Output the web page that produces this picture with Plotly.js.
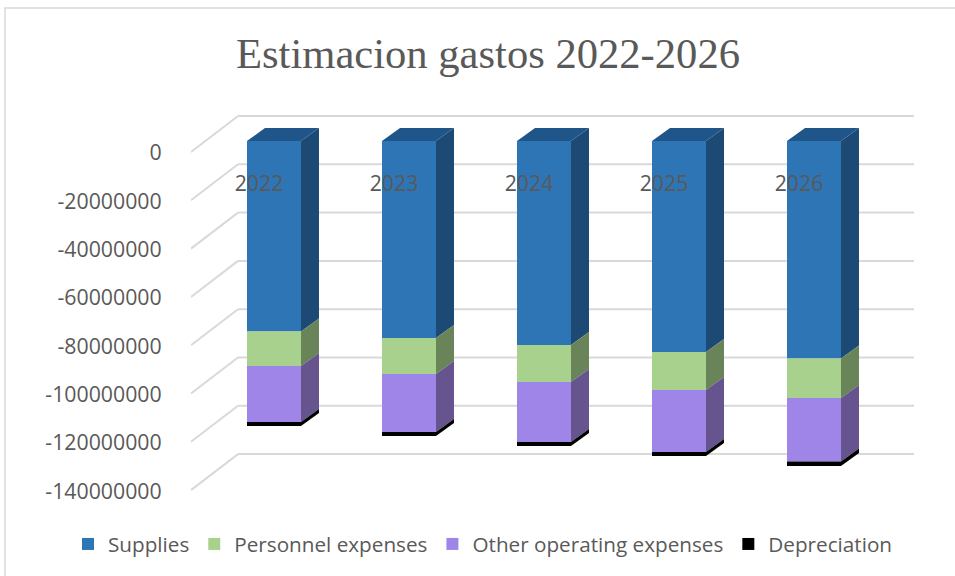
<!DOCTYPE html>
<html><head><meta charset="utf-8">
<script src="https://cdn.plot.ly/plotly-3.0.1.min.js"></script>
<style>html,body{margin:0;padding:0;background:#fff}</style></head>
<body><div id="chart" style="width:955px;height:576px"></div>
<script>
const years = ['2022','2023','2024','2025','2026'];
const supplies = [-78.9e6,-81.6e6,-84.5e6,-87.4e6,-90.1e6];
const personnel = [-14.3e6,-14.9e6,-15.3e6,-15.7e6,-16.3e6];
const otherOperating = [-23.2e6,-24.0e6,-24.8e6,-25.7e6,-26.3e6];
const depreciation = [-1.6e6,-1.7e6,-1.7e6,-1.6e6,-1.9e6];
const yTicks = [0,-20e6,-40e6,-60e6,-80e6,-100e6,-120e6,-140e6];

const W=955,H=576, L=191,R=914,T=100,B=500;
const pxPerX=135, pxPerY=48.3/20e6;
// x index 0 centred at px 274, value 0 at px 141
const xr=[(L-274)/pxPerX,(R-274)/pxPerX];
const yr=[(141-B)/pxPerY,(141-T)/pxPerY];
const barW=54/pxPerX, halfW=barW/2;
const dX=18/pxPerX, dY=13/pxPerY;           // bar depth
const backDY=25/pxPerY, frontDY=-11/pxPerY; // floor depth
const xA=xr[0], xB=(238-274)/pxPerX, xC=xr[1];

const series=[
 {name:'Supplies',v:supplies,c:'#2E75B6',side:'#1C4A75',top:'#20558A'},
 {name:'Personnel expenses',v:personnel,c:'#A9D18E',side:'#6A8459',top:'#6A8459'},
 {name:'Other operating expenses',v:otherOperating,c:'#A085E8',side:'#66548F',top:'#66548F'},
 {name:'Depreciation',v:depreciation,c:'#000000',side:'#000000',top:'#000000'}
];
const idx=years.map((_,i)=>i);
const traces=[];
series.forEach(s=>traces.push({type:'bar',name:s.name,x:idx,y:s.v,width:barW,
  marker:{color:s.c,line:{width:0}},hoverinfo:'skip'}));
let stack=years.map(()=>0);
series.forEach(s=>{
  idx.forEach(i=>{
    const y0=stack[i],y1=y0+s.v[i],xr0=i+halfW;
    traces.push({type:'scatter',mode:'lines',showlegend:false,hoverinfo:'skip',
      x:[xr0,xr0+dX,xr0+dX,xr0,xr0],y:[y0,y0+dY,y1+dY,y1,y0],
      fill:'toself',fillcolor:s.side,line:{width:0,color:s.side}});
  });
  stack=stack.map((t,i)=>t+s.v[i]);
});
idx.forEach(i=>traces.push({type:'scatter',mode:'lines',showlegend:false,hoverinfo:'skip',
  x:[i-halfW,i-halfW+dX,i+halfW+dX,i+halfW,i-halfW],y:[0,dY,dY,0,0],
  fill:'toself',fillcolor:series[0].top,line:{width:0,color:series[0].top}}));
// invisible carrier for the shifted tick-label axes
traces.push({type:'scatter',mode:'none',showlegend:false,hoverinfo:'skip',x:idx,y:yTicks.slice(0,5),xaxis:'x2',yaxis:'y2'});

const gridShapes=[];
yTicks.forEach(v=>{
  gridShapes.push({type:'line',layer:'below',xref:'x',yref:'y',x0:xA,x1:xB,y0:v+frontDY,y1:v+backDY,line:{color:'#D9D9D9',width:2}});
  gridShapes.push({type:'line',layer:'below',xref:'x',yref:'y',x0:xB,x1:xC,y0:v+backDY,y1:v+backDY,line:{color:'#D9D9D9',width:2}});
});
const frame={type:'path',layer:'below',xref:'paper',yref:'paper',
  path:'M'+(5-L)/(R-L)+','+(B-576)/(B-T)+' L'+(5-L)/(R-L)+','+(B-8)/(B-T)+' L'+(955-L)/(R-L)+','+(B-8)/(B-T),
  line:{color:'#D9D9D9',width:1.5}};

const tickFont={family:'Open Sans, sans-serif',size:21.3,color:'#595959'};
Plotly.newPlot('chart',traces,{
  width:W,height:H,barmode:'relative',paper_bgcolor:'#fff',plot_bgcolor:'rgba(0,0,0,0)',
  margin:{l:L,r:W-R,t:T,b:H-B,pad:0},
  title:{text:'Estimacion gastos 2022-2026',font:{family:'Liberation Serif, serif',size:42.6,color:'#595959'},x:488/W,xanchor:'center',y:1-53/H,yanchor:'middle'},
  xaxis:{range:xr,visible:false,fixedrange:true},
  yaxis:{range:yr,visible:false,fixedrange:true},
  xaxis2:{overlaying:'x',anchor:'free',position:(B-169)/(B-T),side:'bottom',range:xr.map(v=>v+15/pxPerX),
    tickmode:'array',tickvals:idx,ticktext:years,tickfont:tickFont,showgrid:false,zeroline:false,showline:false,ticks:'',fixedrange:true},
  yaxis2:{overlaying:'y',side:'left',anchor:'free',position:0,range:yr.map(v=>v+12/pxPerY),
    tickmode:'array',tickvals:yTicks,ticktext:yTicks.map(String),tickfont:tickFont,showgrid:false,zeroline:false,showline:false,
    ticks:'outside',ticklen:25,tickcolor:'rgba(0,0,0,0)',fixedrange:true},
  shapes:gridShapes.concat([frame]),
  legend:{orientation:'h',x:(68-L)/(R-L),xanchor:'left',y:(B-544)/(B-T),yanchor:'middle',font:{family:'Open Sans, sans-serif',size:20.7,color:'#595959'},traceorder:'normal'},
  showlegend:true
},{displayModeBar:false,staticPlot:true});
</script></body></html>
